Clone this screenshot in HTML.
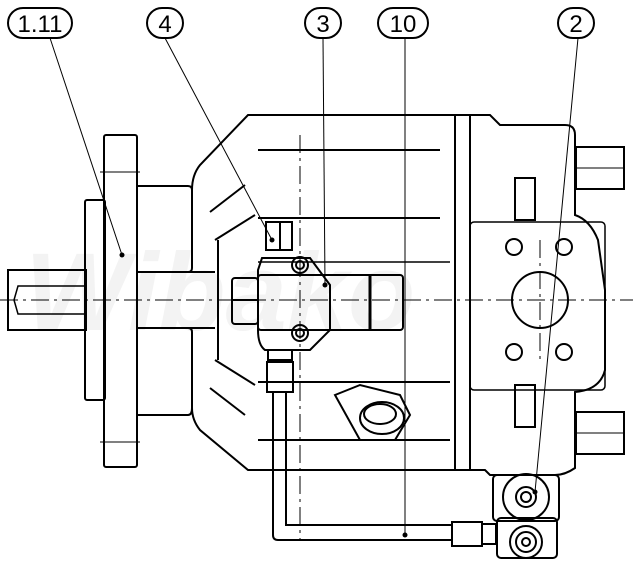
<!DOCTYPE html>
<html><head><meta charset="utf-8"><style>
html,body{margin:0;padding:0;background:#fff}
svg{display:block}
</style></head><body>
<svg width="633" height="573" viewBox="0 0 633 573" xmlns="http://www.w3.org/2000/svg" font-family="Liberation Sans, sans-serif">
<text x="25" y="330" font-size="110" font-style="italic" font-weight="bold" fill="#f3f3f3">Wibako</text>
<g fill="none" stroke="#000" stroke-width="2">
<!-- labels -->
<rect x="8" y="8" width="64" height="30" rx="15"/>
<rect x="147" y="8" width="36" height="30" rx="15"/>
<rect x="305" y="8" width="36" height="30" rx="15"/>
<rect x="378" y="8" width="50" height="30" rx="15"/>
<rect x="558" y="8" width="36" height="30" rx="15"/>
<!-- shaft -->
<rect x="8" y="270" width="78" height="60"/>
<polyline points="86,286 18,286 14,300 18,314 86,314" stroke-width="1.5"/>
<!-- adapter plate -->
<rect x="85" y="200" width="20" height="200" rx="2"/>
<rect x="104" y="135" width="33" height="332" rx="2"/>
<!-- hub -->
<path d="M137,186 H188 Q192,186 192,190 V268 Q192,272 188,272 H137"/>
<path d="M137,328 H188 Q192,328 192,332 V408 Q192,415 188,415 H137"/>
<line x1="137" y1="272" x2="215" y2="272"/><line x1="137" y1="328" x2="215" y2="328"/>
<!-- main housing -->
<path d="M192,190 Q192,175 200,165 L248,115 H490 L500,125 H565 Q575,125 575,135 V215 Q590,220 598,240 L605,290 V370 Q600,390 575,392 V468 Q565,475 555,475 H490 L485,470 H248 L200,430 Q192,420 192,408"/>
<line x1="470" y1="115" x2="470" y2="470"/>
<line x1="455" y1="115" x2="455" y2="470"/>
<rect x="470" y="222" width="135" height="168" rx="4" stroke-width="1.5"/>
<line x1="258" y1="150" x2="440" y2="150"/>
<line x1="258" y1="218" x2="440" y2="218"/>
<line x1="258" y1="262" x2="450" y2="262" stroke-width="1.5"/>
<line x1="258" y1="382" x2="450" y2="382"/>
<line x1="258" y1="440" x2="450" y2="440"/>
<line x1="210" y1="212" x2="245" y2="185"/><line x1="215" y1="240" x2="255" y2="215"/>
<line x1="210" y1="388" x2="245" y2="415"/><line x1="215" y1="360" x2="255" y2="385"/>
<line x1="218" y1="240" x2="218" y2="360"/>
<!-- right details -->
<rect x="515" y="178" width="20" height="42"/>
<rect x="515" y="385" width="20" height="42"/>
<rect x="576" y="147" width="48" height="42"/>
<line x1="576" y1="168" x2="624" y2="168" stroke-width="1"/>
<rect x="576" y="412" width="48" height="42"/>
<line x1="576" y1="433" x2="624" y2="433" stroke-width="1"/>
<circle cx="540" cy="300" r="28"/>
<circle cx="514" cy="247" r="8"/><circle cx="564" cy="247" r="8"/>
<circle cx="514" cy="352" r="8"/><circle cx="564" cy="352" r="8"/>
<!-- control valve -->
<rect x="266" y="222" width="26" height="28"/>
<line x1="280" y1="222" x2="280" y2="250"/>
<path d="M262,258 H310 L330,285 V330 L310,350 H265 Q258,345 258,330 V270 Z"/>
<rect x="258" y="275" width="145" height="55" rx="3"/>
<rect x="232" y="278" width="26" height="46" rx="3"/>
<line x1="232" y1="300" x2="258" y2="300"/>
<line x1="370" y1="275" x2="370" y2="330" stroke-width="3"/>
<circle cx="300" cy="265" r="8"/><circle cx="300" cy="265" r="4"/>
<circle cx="300" cy="333" r="8"/><circle cx="300" cy="333" r="4"/>
<rect x="268" y="350" width="24" height="10"/>
<rect x="267" y="362" width="26" height="30"/>
<!-- tube -->
<path d="M273,392 V535 Q273,540 278,540 H452"/>
<path d="M286,392 V525 H452"/>
<rect x="452" y="522" width="30" height="24"/>
<rect x="482" y="524" width="14" height="20"/>
<!-- dotted -->
<path d="M335,395 L360,385 L400,395 L410,415 L395,440 L360,440 Z"/>
<ellipse cx="382" cy="418" rx="22" ry="16"/>
<ellipse cx="380" cy="414" rx="16" ry="10"/>
<!-- component 2 -->
<rect x="493" y="475" width="66" height="46" rx="4"/>
<circle cx="526" cy="497" r="23"/>
<circle cx="526" cy="497" r="10"/><circle cx="526" cy="497" r="5"/>
<rect x="497" y="518" width="60" height="40" rx="4"/>
<circle cx="526" cy="542" r="16"/><circle cx="526" cy="542" r="10"/><circle cx="526" cy="542" r="4"/>
</g>
<!-- centerlines and leaders -->
<g fill="none" stroke="#000" stroke-width="1">
<line x1="0" y1="300" x2="633" y2="300" stroke-dasharray="18,5,3,5"/>
<line x1="300" y1="135" x2="300" y2="540" stroke-dasharray="18,5,3,5"/>
<line x1="540" y1="240" x2="540" y2="360" stroke-dasharray="18,5,3,5"/>
<line x1="50" y1="38" x2="122" y2="255"/>
<line x1="165" y1="38" x2="272" y2="240"/>
<line x1="323" y1="38" x2="325" y2="285"/>
<line x1="405" y1="38" x2="405" y2="535"/>
<line x1="578" y1="38" x2="535" y2="492"/>
<line x1="100" y1="172" x2="140" y2="172"/><line x1="100" y1="442" x2="140" y2="442"/>
</g>
<g fill="#000">
<circle cx="122" cy="255" r="2.5"/><circle cx="272" cy="240" r="2.5"/><circle cx="325" cy="285" r="2.5"/><circle cx="405" cy="535" r="2.5"/><circle cx="535" cy="492" r="2.5"/>
</g>
<g font-size="24" text-anchor="middle" fill="#000">
<text x="40" y="32">1.11</text>
<text x="165" y="32">4</text>
<text x="323" y="32">3</text>
<text x="403" y="32">10</text>
<text x="576" y="32">2</text>
</g>
</svg>
</body></html>
